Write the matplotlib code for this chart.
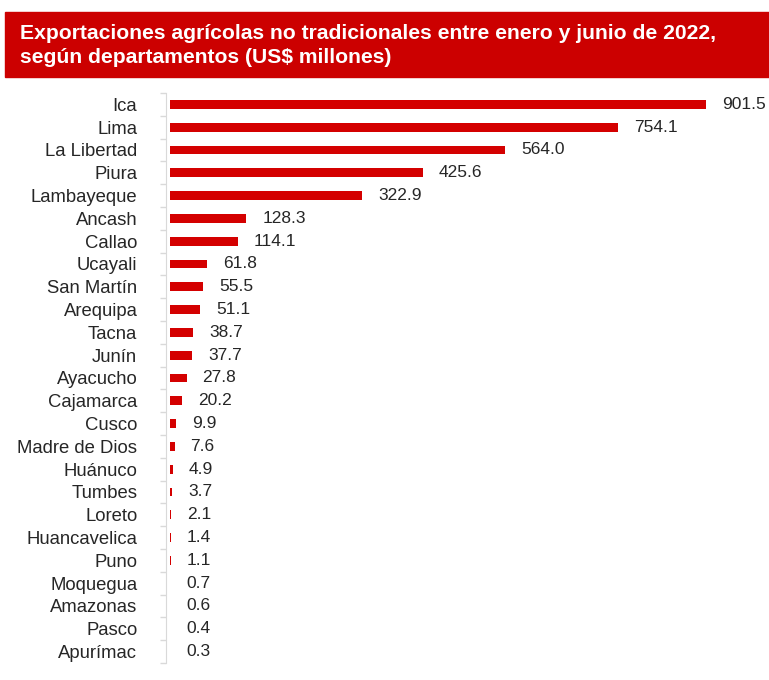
import matplotlib.pyplot as plt
import matplotlib.patches as mpatches
from matplotlib.ticker import FixedLocator

departamentos = ["Ica", "Lima", "La Libertad", "Piura", "Lambayeque", "Ancash", "Callao",
                 "Ucayali", "San Martín", "Arequipa", "Tacna", "Junín", "Ayacucho", "Cajamarca",
                 "Cusco", "Madre de Dios", "Huánuco", "Tumbes", "Loreto", "Huancavelica",
                 "Puno", "Moquegua", "Amazonas", "Pasco", "Apurímac"]
valores = [901.5, 754.1, 564.0, 425.6, 322.9, 128.3, 114.1, 61.8, 55.5, 51.1, 38.7, 37.7,
           27.8, 20.2, 9.9, 7.6, 4.9, 3.7, 2.1, 1.4, 1.1, 0.7, 0.6, 0.4, 0.3]

titulo = "Exportaciones agrícolas no tradicionales entre enero y junio de 2022,\nsegún departamentos (US$ millones)"

plt.rcParams["font.family"] = ["Liberation Sans", "DejaVu Sans"]

W, H = 769, 680
fig = plt.figure(figsize=(W / 100, H / 100), dpi=100)

# banner del titulo
fig.patches.append(mpatches.Rectangle((5 / W, 1 - 77 / H), 1 - 5 / W, 65 / H,
                                      transform=fig.transFigure, color="#cc0000", zorder=0))
fig.text(20 / W, 1 - 45.5 / H, titulo, color="white", fontsize=15.2, fontweight="bold",
         family=["Liberation Sans Narrow", "Liberation Sans", "DejaVu Sans"],
         va="center", ha="left", linespacing=1.3)

ax = fig.add_axes([170 / W, 1 - 663 / H, (W - 170) / W, (663 - 93) / H])
y = list(range(len(valores)))
ax.barh(y, valores, height=0.38, color="#d40000")
ax.set_ylim(len(valores) - 0.5, -0.5)
ax.set_xlim(0, (W - 170) / 0.5946)

for yi, v in zip(y, valores):
    ax.text(v + 27, yi, f"{v:.1f}", va="center", ha="left", fontsize=12.5, color="#262626")

ax.set_yticks(y)
ax.set_yticklabels(departamentos)
ax.yaxis.set_minor_locator(FixedLocator([i - 0.5 for i in range(len(valores) + 1)]))
ax.tick_params(axis="y", which="major", length=0, pad=20.5, labelsize=13.3, labelcolor="#262626")
ax.tick_params(axis="y", which="minor", length=4, color="#d9d9d9", width=1)
ax.set_xticks([])
for s in ["top", "right", "bottom"]:
    ax.spines[s].set_visible(False)
ax.spines["left"].set_color("#d9d9d9")
ax.spines["left"].set_position(("outward", 3))

fig.savefig("out.png", dpi=100)
